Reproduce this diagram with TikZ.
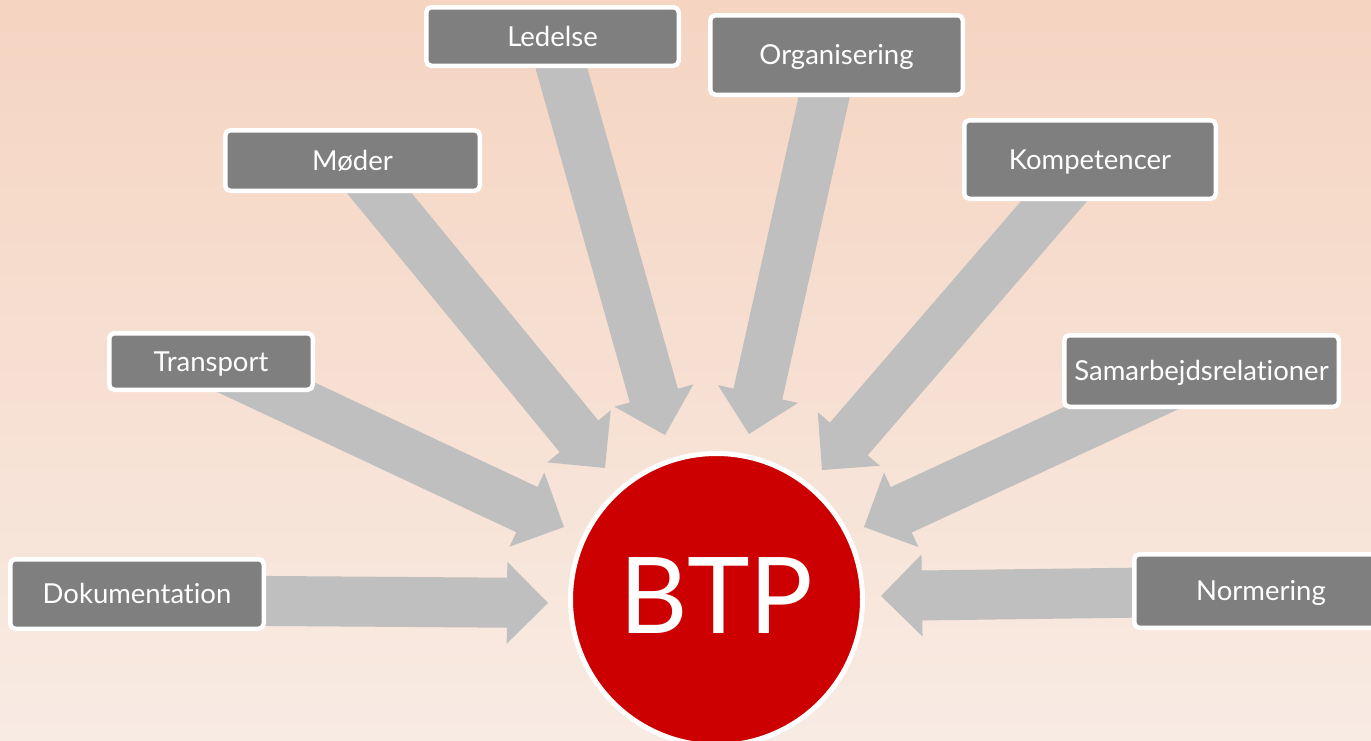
\documentclass[tikz,border=0pt]{standalone}
\usepackage{fontspec}
\setmainfont[Ligatures={NoCommon}]{Lato}
\usetikzlibrary{calc}
\pgfdeclarelayer{bg}
\pgfsetlayers{bg,main}
\definecolor{bgtop}{HTML}{F5D4C1}
\definecolor{bgbot}{HTML}{F8EBE3}
\definecolor{boxgray}{HTML}{7F7F7F}
\definecolor{arrowgray}{HTML}{BFBFBF}
\definecolor{btpred}{HTML}{CC0000}
\newcommand\blockarrow[2]{%
  \fill[arrowgray] let \p1=($(#2)-(#1)$), \n1={atan2(\y1,\x1)} in
    ($(#1)+(\n1+90:25pt)$) --
    ($(#2)+(\n1+180:41pt)+(\n1+90:25pt)$) --
    ($(#2)+(\n1+180:41pt)+(\n1+90:41pt)$) --
    (#2) --
    ($(#2)+(\n1+180:41pt)+(\n1-90:41pt)$) --
    ($(#2)+(\n1+180:41pt)+(\n1-90:25pt)$) --
    ($(#1)+(\n1-90:25pt)$) -- cycle;}
\begin{document}
\begin{tikzpicture}[x={(1pt,0pt)}, y={(0pt,-1pt)},
  lbl/.style={rectangle, rounded corners=5pt, fill=boxgray, draw=white,
    line width=4.5pt, text=white, inner sep=0pt,
    font=\fontsize{27.5}{29}\selectfont, text height=19.7pt, text depth=0pt}]
\useasboundingbox (0,0) rectangle (1371,740);
\clip (0,0) rectangle (1371,740);

% label boxes
\node[lbl, minimum width=252.5pt, minimum height=58.5pt] (led) at (552.5,36.5) {Ledelse};
\node[lbl, minimum width=252.5pt, minimum height=79.5pt] (org) at (836.5,55) {Organisering};
\node[lbl, minimum width=254.5pt, minimum height=60.5pt] (mod) at (352.5,160.5) {Møder};
\node[lbl, minimum width=251.5pt, minimum height=78.5pt] (kom) at (1090,159.5) {Kompetencer};
\node[lbl, minimum width=203.5pt, minimum height=56.5pt] (tra) at (211,361.5) {Transport};
\node[lbl, minimum width=274.5pt, minimum height=71.5pt] (sam) at (1201.5,371) {Samarbejdsrelationer};
\node[lbl, minimum width=253.5pt, minimum height=69.5pt] (dok) at (137,594) {Dokumentation};
\node[lbl, minimum width=253.5pt, minimum height=73.5pt] (nor) at (1261,591) {Normering};

% centre
\node[circle, fill=btpred, draw=white, line width=5pt, minimum size=292pt,
  inner sep=0pt, text=white, font=\fontsize{106}{108}\selectfont,
  text height=76pt, text depth=9pt] (btp) at (716.5,599.5) {BTP};

% arrow ends
\coordinate (tLed) at (665,435);
\coordinate (tOrg) at (749,434);
\coordinate (tMod) at (605,468);
\coordinate (tKom) at (822,470);
\coordinate (tTra) at (564,527);
\coordinate (tSam) at (864,527);
\coordinate (tDok) at (548,603);
\coordinate (tNor) at (881,596);
\coordinate (sDok) at ($(dok.center)+(0,6)$);
\coordinate (sOrg) at ($(org.center)+(-3,0)$);

% background and arrows, behind the boxes
\begin{pgfonlayer}{bg}
\shade[top color=bgtop, bottom color=bgbot] (0,0) rectangle (1371,740);
\blockarrow{led.center}{tLed}
\blockarrow{sOrg}{tOrg}
\blockarrow{mod.center}{tMod}
\blockarrow{kom.center}{tKom}
\blockarrow{tra.center}{tTra}
\blockarrow{sam.center}{tSam}
\blockarrow{sDok}{tDok}
\blockarrow{nor.center}{tNor}
\end{pgfonlayer}
\end{tikzpicture}
\end{document}
